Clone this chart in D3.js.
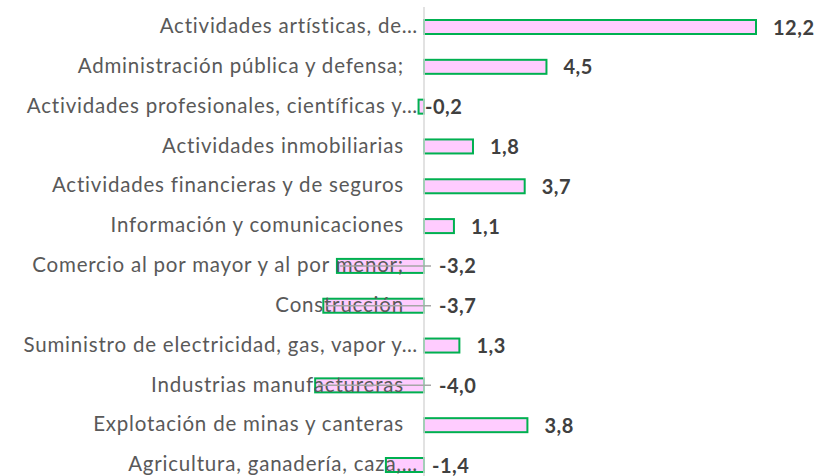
<!DOCTYPE html>
<html><head><meta charset="utf-8">
<script src="https://cdn.jsdelivr.net/npm/d3@7"></script>
<style>html,body{margin:0;padding:0;background:#fff;}svg{display:block;}</style>
</head><body>
<svg id="chart" width="834" height="476"></svg>
<script>
const categories = [
  "Actividades artísticas, de…",
  "Administración pública y defensa;",
  "Actividades profesionales, científicas y…",
  "Actividades inmobiliarias",
  "Actividades financieras y de seguros",
  "Información y comunicaciones",
  "Comercio al por mayor y al por menor;",
  "Construcción",
  "Suministro de electricidad, gas, vapor y…",
  "Industrias manufactureras",
  "Explotación de minas y canteras",
  "Agricultura, ganadería, caza,…"
];
const values = [12.2, 4.5, -0.2, 1.8, 3.7, 1.1, -3.2, -3.7, 1.3, -4.0, 3.8, -1.4];
const valueLabels = ["12,2","4,5","-0,2","1,8","3,7","1,1","-3,2","-3,7","1,3","-4,0","3,8","-1,4"];

const svg = d3.select("#chart");
const x = d3.scaleLinear().domain([0, 12.2]).range([424, 756]);
const y = d3.scalePoint().domain(categories).range([27, 465]);
const barH = 14;
const data = categories.map((c, i) => ({c, v: values[i], t: valueLabels[i]}));

// bars
svg.append("g").selectAll("rect").data(data).join("rect")
  .attr("x", d => Math.min(x(0), x(d.v)))
  .attr("y", d => y(d.c) - barH / 2)
  .attr("width", d => Math.abs(x(d.v) - x(0)))
  .attr("height", barH)
  .attr("fill", "#FFCCFF")
  .attr("stroke", "#00B050")
  .attr("stroke-width", 2);

// vertical axis line
svg.append("line")
  .attr("x1", x(0)).attr("x2", x(0))
  .attr("y1", 7).attr("y2", 476)
  .attr("stroke", "#D9D9D9").attr("stroke-width", 1.5);

// category labels
svg.append("g").selectAll("text").data(data).join("text")
  .attr("x", d => d.c.endsWith("…") ? x(0) - 6 : x(0) - 20)
  .attr("y", d => y(d.c))
  .attr("dy", "0.3em")
  .attr("text-anchor", "end")
  .attr("font-family", "Lato, 'Open Sans', sans-serif")
  .attr("font-size", 20.5)
  .attr("letter-spacing", "0.8px")
  .attr("fill", "#595959")
  .text(d => d.c);

// label offsets for negatives
const labX = d => {
  if (d.v >= 0) return x(d.v) + 17;
  if (d.v > -1) return x(0) + 1;
  if (d.v > -2) return x(0) + 8;
  return x(0) + 15;
};

// leader lines
svg.append("g").selectAll("line").data(data.filter(d => d.v <= -2)).join("line")
  .attr("x1", d => x(d.v) + 3)
  .attr("x2", d => labX(d) - 8)
  .attr("y1", d => y(d.c))
  .attr("y2", d => y(d.c))
  .attr("stroke", "#A6A6A6").attr("stroke-width", 1.5);

// value labels
svg.append("g").selectAll("text").data(data).join("text")
  .attr("x", labX)
  .attr("y", d => y(d.c) + 0.5)
  .attr("dy", "0.35em")
  .attr("font-family", "Lato, 'Open Sans', sans-serif")
  .attr("font-size", 20)
  .attr("font-weight", "bold")
  .attr("letter-spacing", "0.5px")
  .attr("fill", "#404040")
  .text(d => d.t);
</script>
</body></html>
